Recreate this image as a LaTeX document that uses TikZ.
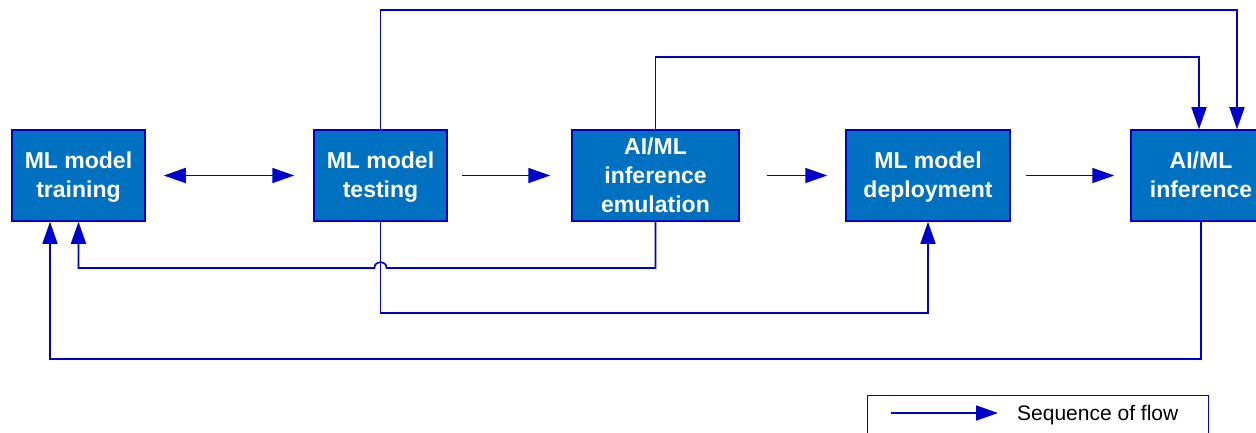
\documentclass[tikz,border=0pt]{standalone}
\usepackage{fontspec}
\setmainfont{Liberation Sans}
\usetikzlibrary{arrows.meta}
\definecolor{boxfill}{HTML}{0070C0}
\definecolor{flowblue}{HTML}{0000CC}
% two-line stage labels sit slightly below the box centre
\newcommand{\stagetext}[1]{\raisebox{0pt}[\dimexpr\height+4pt\relax][\depth]{\begin{tabular}{@{}c@{}}#1\end{tabular}}}
\begin{document}
\begin{tikzpicture}[x=1pt,y=-1pt,
  stage/.style={draw=flowblue, line width=1.5pt, fill=boxfill, text=white,
    font=\fontsize{23}{29}\selectfont\bfseries, align=center,
    minimum height=91pt, inner sep=0pt},
  flow/.style={draw=flowblue, line width=1.6pt,
    -{Triangle[length=22pt,width=15pt]}},
  bothflow/.style={draw=flowblue, line width=1.6pt,
    {Triangle[length=22pt,width=15pt]}-{Triangle[length=22pt,width=15pt]}}]
\useasboundingbox (0,0) rectangle (1256,433);
\clip (0,0) rectangle (1256,433);

% process stages
\node[stage, minimum width=133pt] (train) at (78.5,175.5) {\stagetext{ML model\\training}};
\node[stage, minimum width=133pt] (test) at (380.5,175.5) {\stagetext{ML model\\testing}};
\node[stage, minimum width=167pt] (emu) at (655.5,175.5) {AI/ML\\inference\\emulation};
\node[stage, minimum width=164pt] (deploy) at (928,175.5) {\stagetext{ML model\\deployment}};
\node[stage, minimum width=140pt] (infer) at (1201,175.5) {\stagetext{AI/ML\\inference}};

% main row of arrows
\draw[bothflow, shorten <=18pt, shorten >=19pt] (train.east) -- (test.west);
\draw[flow, shorten <=14pt, shorten >=21pt] (test.east) -- (emu.west);
\draw[flow, shorten <=27pt, shorten >=18pt] (emu.east) -- (deploy.west);
\draw[flow, shorten <=15pt, shorten >=16pt] (deploy.east) -- (infer.west);

% routing corners
\coordinate (topA) at (1237,10);
\coordinate (topB) at (1199,57);
\coordinate (lowA) at (0,268);
\coordinate (lowB) at (0,313);
\coordinate (lowC) at (0,359);

% upper feedback paths into inference
\draw[flow] (test.north) -- (test.north |- topA) -- (topA)
  -- (topA |- infer.north);
\draw[flow] (emu.north) -- (emu.north |- topB) -- (topB)
  -- (topB |- infer.north);

% emulation back to training, hopping over the testing line
\draw[flow] (emu.south) -- (emu.south |- lowA)
  -- ([xshift=6pt]test.south |- lowA)
  .. controls ([xshift=6pt,yshift=8pt]test.south |- lowA)
  and ([xshift=-6pt,yshift=8pt]test.south |- lowA)
  .. ([xshift=-6pt]test.south |- lowA)
  -- (train.south |- lowA) -- (train.south);

% testing to deployment
\draw[flow] (test.south) -- (test.south |- lowB) -- (deploy.south |- lowB)
  -- (deploy.south);

% inference back to training
\coordinate (trainL) at ([xshift=-28.5pt]train.south);
\draw[flow] (infer.south) -- (infer.south |- lowC) -- (trainL |- lowC)
  -- (trainL);

% legend
\node[draw=flowblue, line width=1.2pt, minimum width=341pt, minimum height=60pt,
  anchor=north west, inner sep=0pt] (legend) at (867,395) {};
\coordinate (legA) at (891,413);
\coordinate (legB) at (998,413);
\draw[flow] (legA) -- (legB);
\node[anchor=west, font=\fontsize{21}{25}\selectfont, inner sep=0pt] (legtext)
  at (1017,415) {Sequence of flow};
\end{tikzpicture}
\end{document}
